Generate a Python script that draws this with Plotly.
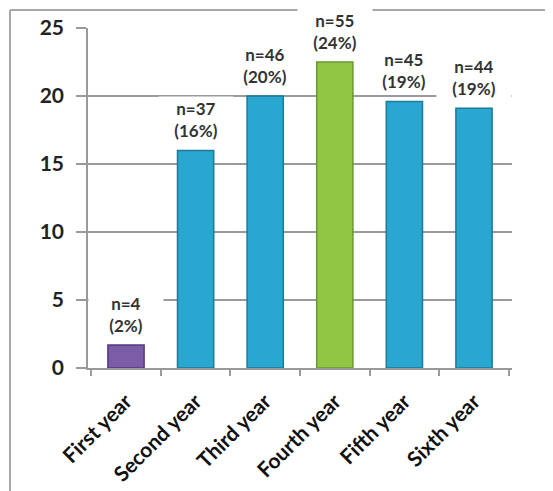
import plotly.graph_objects as go

categories = ["First year", "Second year", "Third year", "Fourth year", "Fifth year", "Sixth year"]
values = [1.7, 16.0, 20.0, 22.5, 19.6, 19.1]
counts = [4, 37, 46, 55, 45, 44]
percents = [2, 16, 20, 24, 19, 19]
y_ticks = [0, 5, 10, 15, 20, 25]

fill_colors = ["#7B5DA7", "#2AA7D0", "#2AA7D0", "#8FC644", "#2AA7D0", "#2AA7D0"]
line_colors = ["#56397C", "#1A7A9A", "#1A7A9A", "#6A9830", "#1A7A9A", "#1A7A9A"]

W, H = 553, 491
# the page body adds an 8px offset, so the figure is positioned to compensate
L, R, T, B = 80, 49, 20, 131

fig = go.Figure()
fig.add_trace(go.Bar(
    x=categories, y=values,
    marker=dict(color=fill_colors, line=dict(color=line_colors, width=1.5)),
    hoverinfo="skip",
))

for c, v, n, p in zip(categories, values, counts, percents):
    fig.add_annotation(
        x=c, y=v, xref="x", yref="y",
        text=f"n={n}<br>({p}%)",
        showarrow=False, yanchor="bottom", yshift=7,
        bgcolor="white", width=72, align="center",
        font=dict(family="Lato", size=17, color="#333333", weight="bold"),
    )

grid_c = "#9A9A9A"
fig.update_layout(
    width=W, height=H,
    margin=dict(l=L, r=R, t=T, b=B, pad=0, autoexpand=False),
    paper_bgcolor="white", plot_bgcolor="white",
    showlegend=False,
    bargap=0.48,
    xaxis=dict(
        automargin=False,
        showgrid=False, showline=True, linecolor=grid_c, linewidth=1.5,
        ticks="outside", tickson="boundaries", ticklen=6, tickcolor=grid_c, tickwidth=1.5,
        tickangle=-45, ticklabelstandoff=11,
        tickfont=dict(family="Lato", size=21, color="#111111", weight="bold"),
    ),
    yaxis=dict(
        automargin=False,
        range=[0, 25], tickvals=y_ticks,
        showgrid=True, gridcolor=grid_c, gridwidth=1.5,
        showline=True, linecolor=grid_c, linewidth=1.5,
        ticks="outside", ticklen=10, tickcolor=grid_c, tickwidth=1.5,
        ticklabelstandoff=8,
        zeroline=False,
        tickfont=dict(family="Lato", size=21, color="#222222", weight="bold"),
    ),
)

pw, ph = W - L - R, H - T - B
bx = (2 - L) / pw
by = (H - B - 2) / ph
fig.add_shape(type="line", xref="paper", yref="paper", x0=bx, x1=(W - L) / pw + 0.05, y0=by, y1=by,
              line=dict(color="#A8A8A8", width=2), layer="below")
fig.add_shape(type="line", xref="paper", yref="paper", x0=bx, x1=bx, y0=by, y1=-(B + 5) / ph,
              line=dict(color="#A8A8A8", width=2), layer="below")

fig.write_html("out.html")
